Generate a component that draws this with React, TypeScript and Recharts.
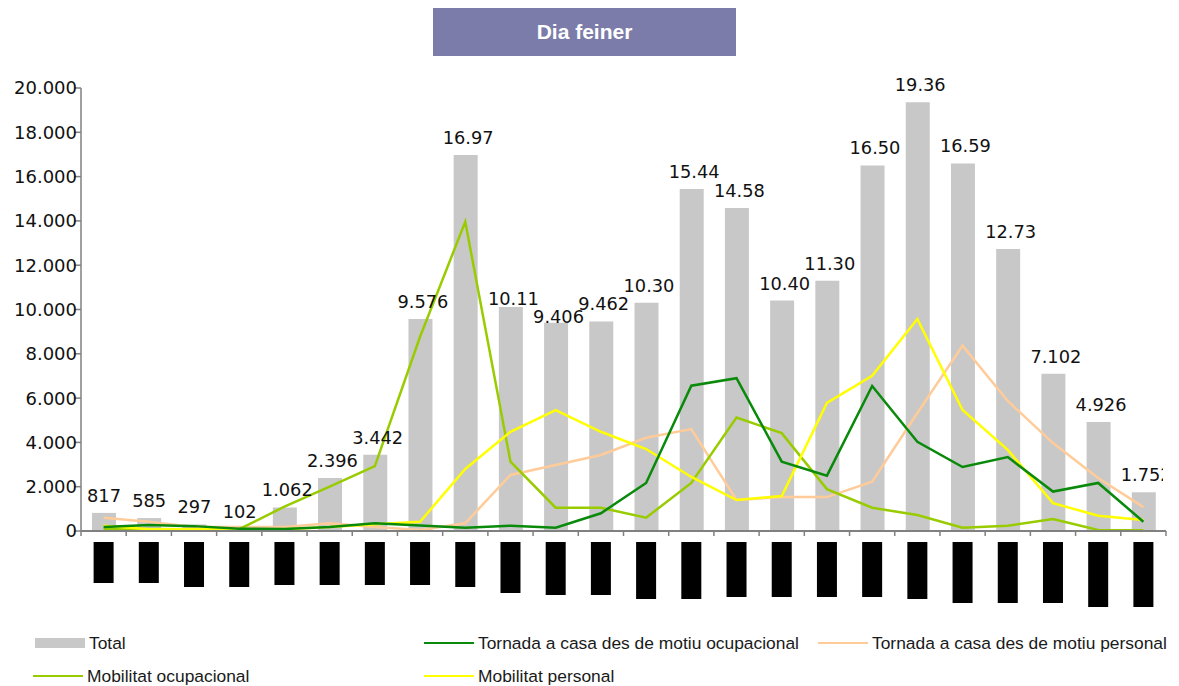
import React from "react";
import {
  ComposedChart,
  Bar,
  Line,
  XAxis,
  YAxis,
  LabelList,
} from "recharts";

// hours of a working day
const CATEGORIES = [
  "0-1", "1-2", "2-3", "3-4", "4-5", "5-6", "6-7", "7-8", "8-9", "9-10", "10-11", "11-12",
  "12-13", "13-14", "14-15", "15-16", "16-17", "17-18", "18-19", "19-20", "20-21", "21-22", "22-23", "23-24",
];

const TOTAL = [
  817, 585, 297, 102, 1062, 2396, 3442, 9576, 16973, 10117, 9406, 9462,
  10302, 15443, 14583, 10402, 11302, 16502, 19362, 16592, 12732, 7102, 4926, 1752,
];

const TORNADA_OCUP = [
  180, 270, 220, 100, 90, 180, 350, 250, 150, 240, 150, 800,
  2170, 6560, 6900, 3130, 2500, 6550, 4030, 2890, 3340, 1780, 2170, 420,
];

const TORNADA_PERS = [
  600, 420, 180, 180, 180, 350, 180, 50, 350, 2530, 2980, 3430,
  4210, 4600, 1400, 1530, 1530, 2230, 5330, 8370, 5870, 3970, 2390, 1080,
];

const MOB_OCUP = [
  100, 90, 80, 80, 1100, 2000, 2930, 8770, 13960, 3130, 1050, 1050,
  600, 2170, 5120, 4420, 1890, 1050, 720, 150, 240, 540, 50, 30,
];

const MOB_PERS = [
  240, 80, 80, 80, 80, 180, 310, 420, 2800, 4480, 5460, 4480,
  3700, 2440, 1400, 1580, 5780, 7010, 9570, 5460, 3660, 1260, 690, 500,
];

const Y_TICKS = [0, 2000, 4000, 6000, 8000, 10000, 12000, 14000, 16000, 18000, 20000];

// heights of the black category-label boxes under the axis
const TICK_BOX_HEIGHTS = [
  41, 41, 45, 45, 43, 43, 43, 43, 45, 51, 53, 53,
  57, 57, 55, 55, 55, 55, 57, 61, 61, 61, 65, 65,
];

// labels pushed down to avoid colliding with a neighbour
const LABEL_NUDGE: Record<number, number> = { 9: 9, 10: 11 };

const data = CATEGORIES.map((c, i) => ({
  name: c,
  total: TOTAL[i],
  tornadaOcup: TORNADA_OCUP[i],
  tornadaPers: TORNADA_PERS[i],
  mobOcup: MOB_OCUP[i],
  mobPers: MOB_PERS[i],
}));

const CHART_W = 1179;
const CHART_H = 620;
const PLOT_LEFT = 81;
const PLOT_RIGHT = 1166;
const BAND = (PLOT_RIGHT - PLOT_LEFT) / CATEGORIES.length;

const LABEL_FONT = "'DejaVu Sans', sans-serif";
const LABEL_SIZE = 17.8;
const LABEL_BOX = 48;

const fmt = (n: number) => String(n).replace(/\B(?=(\d{3})+(?!\d))/g, ".");

const textWidth = (s: string) =>
  s.split("").reduce((w, ch) => w + (ch === "." ? 0.318 : 0.636) * LABEL_SIZE, 0);

const BarValueLabel = (props: any) => {
  const { x, y, width, value, index } = props;
  const cx = Number(x) + Number(width) / 2;
  const txt = fmt(Number(value));
  const ty = Number(y) - 11 + (LABEL_NUDGE[index] ?? 0);
  if (textWidth(txt) <= LABEL_BOX) {
    return (
      <text x={cx} y={ty} textAnchor="middle" fontFamily={LABEL_FONT} fontSize={LABEL_SIZE} fill="#111">
        {txt}
      </text>
    );
  }
  const left = cx - 23;
  const right = Math.min(left + 51, PLOT_RIGHT - 3);
  const id = `lblclip-${index}`;
  return (
    <g>
      <defs>
        <clipPath id={id}>
          <rect x={left} y={ty - 30} width={right - left} height={40} />
        </clipPath>
      </defs>
      <text x={left} y={ty} textAnchor="start" fontFamily={LABEL_FONT} fontSize={LABEL_SIZE} fill="#111" clipPath={`url(#${id})`}>
        {txt}
      </text>
    </g>
  );
};

const YTick = (props: any) => {
  const { x, y, payload } = props;
  return (
    <text x={Number(x) + 5} y={y} dy="0.36em" textAnchor="end" fontFamily={LABEL_FONT} fontSize={18} fill="#111">
      {fmt(payload.value)}
    </text>
  );
};

const XTick = (props: any) => {
  const { x, index } = props;
  const axisY = CHART_H - 19 - 70;
  const cx = Number(x);
  const h = TICK_BOX_HEIGHTS[index] ?? 45;
  return (
    <g>
      <line x1={cx - BAND / 2} y1={axisY} x2={cx - BAND / 2} y2={axisY + 5} stroke="#808080" strokeWidth={1.5} />
      {index === CATEGORIES.length - 1 && (
        <line x1={cx + BAND / 2} y1={axisY} x2={cx + BAND / 2} y2={axisY + 5} stroke="#808080" strokeWidth={1.5} />
      )}
      <rect x={cx - 10} y={axisY + 11} width={20} height={h} fill="#000" />
    </g>
  );
};

const SERIES = [
  { key: "tornadaPers", name: "Tornada a casa des de motiu personal", color: "#ffcc99" },
  { key: "mobOcup", name: "Mobilitat ocupacional", color: "#99cc00" },
  { key: "mobPers", name: "Mobilitat personal", color: "#ffff00" },
  { key: "tornadaOcup", name: "Tornada a casa des de motiu ocupacional", color: "#0a8a0a" },
];

const LEGEND = [
  { name: "Total", color: "#c8c8c8", bar: true, left: 35, top: 643 },
  { name: "Tornada a casa des de motiu ocupacional", color: "#0a8a0a", bar: false, left: 424, top: 643 },
  { name: "Tornada a casa des de motiu personal", color: "#ffcc99", bar: false, left: 818, top: 643 },
  { name: "Mobilitat ocupacional", color: "#99cc00", bar: false, left: 33, top: 676 },
  { name: "Mobilitat personal", color: "#ffff00", bar: false, left: 424, top: 676 },
];

export default function App() {
  return (
    <div style={{ position: "absolute", left: 0, top: 0, width: 1179, height: 686, background: "#fff", overflow: "hidden" }}>
      <div
        style={{
          position: "absolute",
          left: 433,
          top: 8,
          width: 303,
          height: 48,
          background: "#7b7ca9",
          color: "#fff",
          fontFamily: "'Liberation Sans', Arial, sans-serif",
          fontWeight: "bold",
          fontSize: 21,
          display: "flex",
          alignItems: "center",
          justifyContent: "center",
        }}
      >
        Dia feiner
      </div>

      <div style={{ position: "absolute", left: 0, top: 0 }}>
        <ComposedChart
          width={CHART_W}
          height={CHART_H}
          data={data}
          margin={{ top: 88, right: CHART_W - PLOT_RIGHT, bottom: 19, left: 0 }}
        >
          <XAxis
            dataKey="name"
            height={70}
            axisLine={{ stroke: "#808080", strokeWidth: 2 }}
            tickLine={false}
            tick={<XTick />}
            interval={0}
          />
          <YAxis
            width={PLOT_LEFT}
            domain={[0, 20000]}
            ticks={Y_TICKS}
            axisLine={{ stroke: "#808080", strokeWidth: 1.5 }}
            tickLine={{ stroke: "#808080", strokeWidth: 1.5 }}
            tickSize={7}
            tick={<YTick />}
          />
          <Bar dataKey="total" name="Total" fill="#c8c8c8" barSize={24} isAnimationActive={false}>
            <LabelList dataKey="total" content={<BarValueLabel />} />
          </Bar>
          {SERIES.map((s) => (
            <Line
              key={s.key}
              type="linear"
              dataKey={s.key}
              name={s.name}
              stroke={s.color}
              strokeWidth={2.5}
              dot={false}
              activeDot={false}
              isAnimationActive={false}
            />
          ))}
        </ComposedChart>
      </div>

      {LEGEND.map((l) => (
        <div
          key={l.name}
          style={{
            position: "absolute",
            left: l.left,
            top: l.top - 11,
            height: 22,
            display: "flex",
            alignItems: "center",
            fontFamily: "'Liberation Sans', Arial, sans-serif",
            fontSize: 17.4,
            color: "#1a1a1a",
            whiteSpace: "nowrap",
          }}
        >
          <span
            style={{
              display: "inline-block",
              width: 50,
              height: l.bar ? 10 : 2.5,
              background: l.color,
              marginRight: 4,
            }}
          />
          {l.name}
        </div>
      ))}
    </div>
  );
}
